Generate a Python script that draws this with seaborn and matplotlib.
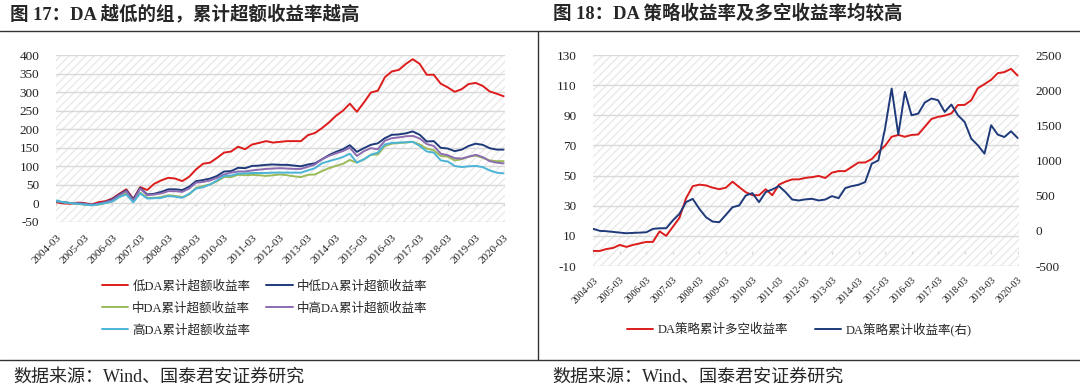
import matplotlib
matplotlib.use("Agg")
import matplotlib.pyplot as plt
import numpy as np
import pandas as pd
import seaborn as sns
from matplotlib.lines import Line2D
from matplotlib.patches import Rectangle

# quarterly points, 2004-03 .. 2020-03
tick_labels = [f"{y}-03" for y in range(2004, 2021)]

low_da = [3, 0, -1, 2, 1, -3, 3, 6, 13, 26, 38, 12, 44, 36, 53, 62,
          69, 67, 60, 72, 92, 107, 110, 123, 137, 140, 153, 146, 159, 163, 168, 164,
          166, 168, 168, 168, 184, 190, 203, 218, 236, 250, 269, 247, 272, 299, 304, 340,
          356, 360, 376, 389, 376, 347, 347, 323, 313, 301, 308, 322, 325, 317, 302, 296,
          289]
mid_low_da = [4, 3, 1, 0, -1, -4, -1, 3, 11, 24, 35, 11, 42, 24, 26, 31,
              38, 38, 36, 45, 60, 63, 67, 74, 86, 87, 96, 95, 101, 102, 104, 105,
              104, 104, 102, 100, 105, 108, 119, 130, 139, 146, 157, 139, 149, 158, 162, 176,
              185, 186, 189, 194, 185, 167, 168, 150, 148, 141, 145, 155, 161, 158, 149, 145,
              145]
mid_da = [5, 3, 1, -1, -3, -5, -3, 1, 6, 19, 27, 6, 29, 15, 15, 17,
          22, 20, 17, 24, 42, 47, 51, 60, 71, 71, 77, 76, 77, 76, 74, 76,
          78, 76, 73, 71, 77, 78, 87, 95, 101, 107, 117, 110, 119, 131, 132, 155,
          161, 163, 164, 166, 159, 148, 143, 128, 126, 116, 119, 126, 129, 123, 116, 114,
          114]
mid_high_da = [6, 3, 1, 0, -1, -4, -1, 3, 9, 22, 33, 8, 40, 22, 24, 27,
               33, 33, 31, 40, 56, 58, 62, 69, 78, 83, 86, 86, 89, 91, 93, 94,
               95, 94, 93, 93, 99, 105, 119, 128, 135, 141, 150, 128, 141, 149, 146, 169,
               176, 178, 181, 182, 175, 160, 155, 134, 130, 122, 121, 126, 131, 125, 114, 110,
               108]
high_da = [8, 3, 1, -1, -3, -5, -3, 1, 5, 17, 24, 3, 27, 13, 14, 15,
           20, 18, 15, 26, 40, 44, 51, 62, 74, 75, 80, 81, 82, 82, 82, 83,
           83, 83, 83, 83, 89, 95, 108, 114, 119, 125, 134, 110, 119, 131, 137, 159,
           163, 164, 165, 166, 155, 140, 137, 116, 113, 101, 98, 100, 101, 98, 89, 83,
           81]

long_short = [0, 0, 1.3, 2, 4, 2.7, 4, 5, 6, 6, 13, 10, 16, 22, 35, 43,
              44, 43.5, 42, 41, 42, 46, 42.4, 39, 37, 37, 41, 37, 44, 46, 47.5, 47.5,
              48.5, 49, 49.8, 48.4, 52, 53, 53, 55.8, 58.7, 58.7, 61, 65.8, 69.8, 75.8, 77, 75.8,
              77, 77.3, 82.4, 87.6, 89, 89.8, 91.3, 96.9, 96.9, 100, 108, 110.7, 113.6, 118, 118.7, 120.9,
              116.4]
strategy_cum = [28, 0, -5, -15, -25, -34, -29, -25, -20, 28, 37, 37, 147, 242, 410, 455,
                313, 194, 132, 123, 228, 337, 361, 503, 537, 408, 551, 589, 637, 551, 446, 432,
                448, 456, 432, 446, 494, 465, 608, 637, 655, 694, 955, 1003, 1454, 2025, 1369, 1977,
                1644, 1668, 1825, 1882, 1858, 1692, 1797, 1644, 1549, 1312, 1217, 1098, 1502, 1369, 1335, 1416,
                1321]

left_names = ["低DA累计超额收益率", "中低DA累计超额收益率", "中DA累计超额收益率",
              "中高DA累计超额收益率", "高DA累计超额收益率"]
left_colors = ["#dd1c1c", "#1f3a7a", "#9bbb59", "#8c6bb1", "#4bb4d6"]

sns.set_theme(style="white")
plt.rcParams["font.family"] = ["Liberation Serif", "Noto Sans CJK SC"]
plt.rcParams["axes.unicode_minus"] = False

idx = np.arange(len(low_da))
tick_pos = idx[::4]
grid_c = "#d9d9d9"

fig = plt.figure(figsize=(10.8, 3.88), dpi=100)


def style_axes(ax, ylim, yticks, zero_drop):
    ax.set_xlim(-0.05, idx[-1] + 0.2)
    ax.set_ylim(*ylim)
    ax.add_patch(Rectangle((0, 0), 1, 1, transform=ax.transAxes, facecolor="white",
                           edgecolor="#e9e9e9", hatch="////", lw=0, zorder=0))
    for y in yticks:
        ax.axhline(y, color=grid_c, lw=1.0, zorder=1)
    ax.vlines(tick_pos, -zero_drop, 0, colors=grid_c, lw=1.0, zorder=1)
    ax.set_yticks(yticks)
    ax.set_xticks(tick_pos)
    ax.set_xticklabels(tick_labels, rotation=45, ha="right", rotation_mode="anchor")
    ax.tick_params(axis="both", length=0, colors="#222222")
    for s in ax.spines.values():
        s.set_visible(False)
    ax.set_xlabel("")
    ax.set_ylabel("")


# ---- left chart
ax1 = fig.add_axes([0.0519, 0.428, 0.4157, 0.430])
series = [low_da, mid_low_da, mid_da, mid_high_da, high_da]
for vals, name, c in zip(series, left_names, left_colors):
    sns.lineplot(x=idx, y=vals, ax=ax1, color=c, lw=1.4, label=name, zorder=3)
style_axes(ax1, (-50, 400), list(range(-50, 401, 50)), 8)
ax1.tick_params(axis="y", labelsize=9.5, pad=12)
ax1.tick_params(axis="x", labelsize=8, pad=8)
h, l = ax1.get_legend_handles_labels()
ax1.get_legend().remove()
order = [0, 2, 4, 1, 3]
fig.legend([h[i] for i in order], [l[i] for i in order], ncol=2, loc="center",
           bbox_to_anchor=(0.245, 0.206), frameon=False, fontsize=9,
           handlelength=2.1, handletextpad=0.35, columnspacing=1.3, labelspacing=0.75)

# ---- right chart
ax2 = fig.add_axes([0.549, 0.3144, 0.3945, 0.5436])
sns.lineplot(x=idx, y=long_short, ax=ax2, color="#dd1c1c", lw=1.4, zorder=3,
             label="DA策略累计多空收益率")
style_axes(ax2, (-10, 130), list(range(-10, 131, 20)), 2)
ax2.tick_params(axis="y", labelsize=9.5, pad=12)
ax2.tick_params(axis="x", labelsize=7, pad=7)
ax3 = ax2.twinx()
sns.lineplot(x=idx, y=strategy_cum, ax=ax3, color="#1f3a7a", lw=1.4, zorder=3,
             label="DA策略累计收益率(右)")
ax3.set_ylim(-500, 2500)
ax3.set_yticks(range(-500, 2501, 500))
ax3.tick_params(axis="y", labelsize=9.5, pad=12, length=0, colors="#222222")
ax3.set_ylabel("")
for s in ax3.spines.values():
    s.set_visible(False)
h2, l2 = ax2.get_legend_handles_labels()
h3, l3 = ax3.get_legend_handles_labels()
ax2.get_legend().remove()
ax3.get_legend().remove()
fig.legend(h2 + h3, l2 + l3, ncol=2, loc="center", bbox_to_anchor=(0.74, 0.152),
           frameon=False, fontsize=9, handlelength=2.1, handletextpad=0.35,
           columnspacing=2.2)

# ---- frame, titles, source notes
fig.add_artist(Line2D([0, 1], [0.920, 0.920], color="#333333", lw=1.0))
fig.add_artist(Line2D([0, 1], [0.073, 0.073], color="#333333", lw=1.0))
fig.add_artist(Line2D([0.498, 0.498], [0.073, 0.920], color="#333333", lw=1.0))

fig.text(0.009, 0.965, "图 17：DA 越低的组，累计超额收益率越高", fontsize=13.3,
         fontweight="bold", va="center", ha="left")
fig.text(0.512, 0.965, "图 18：DA 策略收益率及多空收益率均较高", fontsize=13.3,
         fontweight="bold", va="center", ha="left")
fig.text(0.012, 0.028, "数据来源：Wind、国泰君安证券研究", fontsize=13,
         va="center", ha="left")
fig.text(0.511, 0.028, "数据来源：Wind、国泰君安证券研究", fontsize=13,
         va="center", ha="left")

fig.savefig("out.png", dpi=100)
